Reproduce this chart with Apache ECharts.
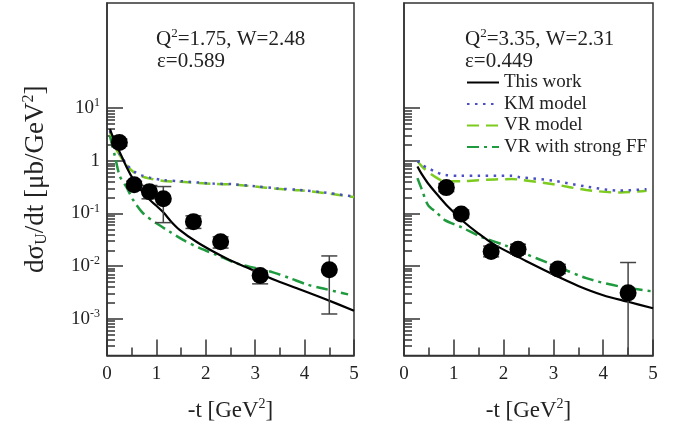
<!DOCTYPE html>
<html>
<head>
<meta charset="utf-8">
<script src="https://cdn.jsdelivr.net/npm/echarts@6/dist/echarts.min.js"></script>
<style>html,body{margin:0;padding:0;background:#fff}#c{width:681px;height:427px}</style>
</head>
<body>
<div id="c"></div>
<script>
// ---------- data ----------
const xTickLabels = ['0', '1', '2', '3', '4', '5'];
const yDecadeExponents = [-3, -2, -1, 0, 1];
const yMinValue = 2e-4;
const yMaxValue = 1000;

// left panel: Q2=1.75, W=2.48, eps=0.589
const leftPtT   = [0.25, 0.55, 0.86, 1.14, 1.75, 2.30, 3.10, 4.50];
const leftPtV   = [2.23, 0.35, 0.26, 0.19, 0.070, 0.029, 0.0066, 0.0085];
const leftPtLo  = [1.9, 0.30, 0.19, 0.067, 0.052, 0.022, 0.0046, 0.00123];
const leftPtHi  = [2.6, 0.41, 0.34, 0.325, 0.090, 0.036, 0.0081, 0.0156];

const leftThisT = [0.06, 0.15, 0.26, 0.40, 0.53, 0.70, 0.87, 1.00, 1.14, 1.30, 1.47, 1.81, 2.15, 2.48, 2.82, 3.16, 3.50, 3.91, 4.40, 5.00];
const leftThisV = [4.0, 2.4, 1.45, 0.75, 0.45, 0.27, 0.18, 0.14, 0.105, 0.07, 0.049, 0.029, 0.0189, 0.0131, 0.0095, 0.0068, 0.0050, 0.0036, 0.0024, 0.00142];

const leftKMT = [0.06, 0.15, 0.26, 0.40, 0.53, 0.70, 0.87, 1.14, 1.50, 2.15, 2.55, 3.00, 3.43, 3.90, 4.40, 5.00];
const leftKMV = [3.7, 2.0, 1.33, 0.85, 0.645, 0.53, 0.48, 0.43, 0.41, 0.37, 0.36, 0.33, 0.30, 0.28, 0.25, 0.21];
const leftVRV = [3.6, 1.95, 1.28, 0.82, 0.62, 0.51, 0.46, 0.415, 0.40, 0.365, 0.355, 0.325, 0.295, 0.275, 0.245, 0.205];

const leftFFT = [0.06, 0.16, 0.26, 0.40, 0.53, 0.73, 1.00, 1.27, 1.54, 1.88, 2.22, 2.62, 3.02, 3.36, 3.70, 4.04, 4.40, 4.88];
const leftFFV = [2.95, 1.23, 0.51, 0.31, 0.18, 0.101, 0.065, 0.045, 0.0315, 0.0219, 0.0163, 0.0113, 0.0091, 0.0076, 0.0059, 0.0045, 0.0037, 0.0029];

// right panel: Q2=3.35, W=2.31, eps=0.449
const rightPtT  = [0.85, 1.15, 1.75, 2.29, 3.09, 4.50];
const rightPtV  = [0.31, 0.098, 0.019, 0.021, 0.0088, 0.0031];
const rightPtLo = [0.26, 0.082, 0.015, 0.017, 0.0072, 0.0001];
const rightPtHi = [0.37, 0.117, 0.024, 0.026, 0.0108, 0.0117];

const rightThisT = [0.27, 0.35, 0.48, 0.65, 0.82, 1.00, 1.15, 1.49, 1.82, 2.32, 2.50, 3.00, 3.50, 4.00, 4.50, 5.00];
const rightThisV = [0.78, 0.57, 0.376, 0.24, 0.157, 0.105, 0.076, 0.042, 0.0253, 0.0145, 0.0118, 0.0069, 0.0042, 0.0028, 0.0021, 0.00158];

const rightKMT = [0.27, 0.35, 0.48, 0.65, 0.82, 1.15, 1.49, 2.16, 2.32, 3.00, 3.66, 4.33, 4.87];
const rightKMV = [1.0, 0.85, 0.73, 0.61, 0.54, 0.52, 0.52, 0.52, 0.49, 0.42, 0.325, 0.272, 0.29];
const rightVRV = [1.0, 0.80, 0.62, 0.48, 0.41, 0.41, 0.43, 0.45, 0.44, 0.36, 0.28, 0.25, 0.27];

const rightFFT = [0.27, 0.35, 0.48, 0.65, 0.82, 1.15, 1.55, 2.02, 2.32, 3.00, 3.66, 4.33, 5.00];
const rightFFV = [0.47, 0.30, 0.146, 0.105, 0.075, 0.055, 0.036, 0.025, 0.019, 0.0105, 0.0059, 0.0041, 0.0033];

const leftLabelLines  = ['Q{sup|2}=1.75, W=2.48', 'ε=0.589'];
const rightLabelLines = ['Q{sup|2}=3.35, W=2.31', 'ε=0.449'];
const legendNames = ['This work', 'KM model', 'VR model', 'VR with strong FF'];

// ---------- chart ----------
const FONT = 'Liberation Serif';
const yMin = Math.log10(yMinValue), yMax = Math.log10(yMaxValue);
const lg = v => Math.log10(v);
const pairs = (ts, vs) => ts.map((t, i) => [t, lg(vs[i])]);

const minorY = [];
for (let d = -4; d <= 0; d++) for (let k = 2; k <= 9; k++) {
  const v = lg(k) + d;
  if (v > yMin + 1e-6 && v < 1) minorY.push(v);
}

const AX = '#333';

function xAxisFor(gi) {
  return {
    gridIndex: gi, type: 'value', min: 0, max: 5, interval: 1,
    axisLine: { show: true, onZero: false, lineStyle: { color: AX, width: 1.5 } },
    axisTick: { inside: true, length: 16, lineStyle: { color: AX, width: 1.5 } },
    minorTick: { show: true, splitNumber: 2, length: 8, lineStyle: { color: AX, width: 1.5 } },
    splitLine: { show: false },
    axisLabel: { margin: 9, fontFamily: FONT, fontSize: 19, color: '#222',
      formatter: v => xTickLabels[Math.round(v)] },
    name: '-t [GeV{sup|2}]', nameLocation: 'middle', nameGap: 42,
    nameTextStyle: { fontFamily: FONT, fontSize: 23, color: '#222',
      rich: { sup: { fontFamily: FONT, fontSize: 14, verticalAlign: 'top', padding: [0, 0, 12, 0], color: '#222' } } }
  };
}
function yAxisMajor(gi, withLabels) {
  const ax = {
    gridIndex: gi, type: 'value', min: yMin, max: yMax, position: 'left',
    axisLine: { show: true, onZero: false, lineStyle: { color: AX, width: 1.5 } },
    axisTick: { inside: true, length: 16, customValues: yDecadeExponents, lineStyle: { color: AX, width: 1.5 } },
    splitLine: { show: false },
    axisLabel: { show: withLabels, customValues: yDecadeExponents, margin: 7, fontFamily: FONT, fontSize: 19, color: '#222',
      formatter: v => Math.round(v) === 0 ? '1' : '10{sup|' + (Math.round(v) < 0 ? '-' + (-Math.round(v)) : Math.round(v)) + '}',
      rich: { sup: { fontFamily: FONT, fontSize: 12, verticalAlign: 'top', padding: [0, 0, 10, 0], color: '#222' } } }
  };
  if (withLabels) {
    ax.name = 'dσ{sub|U}/dt [μb/GeV{sup|2}]';
    ax.nameLocation = 'middle';
    ax.nameGap = 57;
    ax.nameTextStyle = { fontFamily: FONT, fontSize: 27, color: '#222',
      rich: { sup: { fontFamily: FONT, fontSize: 16, verticalAlign: 'top', padding: [0, 0, 13, 0], color: '#222' },
              sub: { fontFamily: FONT, fontSize: 16, verticalAlign: 'bottom', padding: [10, 0, 0, 0], color: '#222' } } };
  }
  return ax;
}
function yAxisMinor(gi) {
  return {
    gridIndex: gi, type: 'value', min: yMin, max: yMax, position: 'left', offset: 0,
    axisLine: { show: false, onZero: false },
    axisTick: { inside: true, length: 8, customValues: minorY, lineStyle: { color: AX, width: 1.5 } },
    splitLine: { show: false },
    axisLabel: { show: false }
  };
}

const styles = {
  'This work': { color: '#000', width: 2.2, type: 'solid' },
  'KM model': { color: '#4a4fc4', width: 2.5, type: [2.5, 5.5] },
  'VR model': { color: '#7ccb1e', width: 2.5, type: [12, 7] },
  'VR with strong FF': { color: '#1f9a3e', width: 2.5, type: [12, 5, 3, 5] }
};
function curve(name, gi, ts, vs) {
  const s = styles[name];
  return {
    name, type: 'line', xAxisIndex: gi, yAxisIndex: gi * 2, data: pairs(ts, vs),
    showSymbol: false, symbol: 'none', smooth: 0.3, silent: true, z: 3,
    lineStyle: { color: s.color, width: s.width, type: s.type, cap: 'butt' },
    itemStyle: { color: s.color }
  };
}
function points(gi, ts, vs) {
  return {
    name: 'data' + gi, type: 'scatter', xAxisIndex: gi, yAxisIndex: gi * 2,
    data: pairs(ts, vs), symbol: 'circle', symbolSize: 17, z: 6, silent: true,
    itemStyle: { color: '#000', opacity: 1 }
  };
}
function errBars(gi, ts, lo, hi) {
  return {
    name: 'err' + gi, type: 'custom', xAxisIndex: gi, yAxisIndex: gi * 2, z: 4, silent: true,
    data: ts.map((t, i) => [t, lg(lo[i]), lg(hi[i])]),
    encode: { x: 0, y: [1, 2] },
    renderItem: (params, api) => {
      const t = api.value(0), l = api.value(1), h = api.value(2);
      const lc = Math.max(l, yMin);
      const p1 = api.coord([t, lc]), p2 = api.coord([t, h]);
      const hw = 8;
      const st = { stroke: '#444', lineWidth: 1.5 };
      const ch = [
        { type: 'line', shape: { x1: p1[0], y1: p1[1], x2: p2[0], y2: p2[1] }, style: st },
        { type: 'line', shape: { x1: p2[0] - hw, y1: p2[1], x2: p2[0] + hw, y2: p2[1] }, style: st }
      ];
      if (l >= yMin) ch.push({ type: 'line', shape: { x1: p1[0] - hw, y1: p1[1], x2: p1[0] + hw, y2: p1[1] }, style: st });
      return { type: 'group', children: ch };
    }
  };
}

const chart = echarts.init(document.getElementById('c'), null, { renderer: 'canvas' });
const annRich = { sup: { fontFamily: FONT, fontSize: 13, verticalAlign: 'top', padding: [0, 0, 11, 0], color: '#222' } };
chart.setOption({
  animation: false,
  backgroundColor: '#fff',
  grid: [
    { left: 107, top: 3, width: 247, height: 353, show: true, borderColor: AX, borderWidth: 1.5, containLabel: false },
    { left: 404, top: 3, width: 249, height: 353, show: true, borderColor: AX, borderWidth: 1.5, containLabel: false }
  ],
  xAxis: [xAxisFor(0), xAxisFor(1)],
  yAxis: [yAxisMajor(0, true), yAxisMinor(0), yAxisMajor(1, false), yAxisMinor(1)],
  legend: {
    orient: 'vertical', left: 461, top: 67, itemWidth: 32, itemHeight: 14, itemGap: 0.5,
    data: legendNames, selectedMode: false,
    itemStyle: { opacity: 0 },
    textStyle: { fontFamily: FONT, fontSize: 19, color: '#222', lineHeight: 21, padding: [0, 0, 0, 0] }
  },
  title: [
    { text: leftLabelLines[0], left: 151, top: 22, textStyle: { fontFamily: FONT, fontSize: 21, fontWeight: 'normal', color: '#222', rich: annRich } },
    { text: leftLabelLines[1], left: 152, top: 46, textStyle: { fontFamily: FONT, fontSize: 21, fontWeight: 'normal', color: '#222' } },
    { text: rightLabelLines[0], left: 460, top: 22, textStyle: { fontFamily: FONT, fontSize: 21, fontWeight: 'normal', color: '#222', rich: annRich } },
    { text: rightLabelLines[1], left: 460, top: 46, textStyle: { fontFamily: FONT, fontSize: 21, fontWeight: 'normal', color: '#222' } }
  ],
  series: [
    curve('VR model', 0, leftKMT, leftVRV),
    curve('KM model', 0, leftKMT, leftKMV),
    curve('VR with strong FF', 0, leftFFT, leftFFV),
    curve('This work', 0, leftThisT, leftThisV),
    errBars(0, leftPtT, leftPtLo, leftPtHi),
    points(0, leftPtT, leftPtV),
    curve('VR model', 1, rightKMT, rightVRV),
    curve('KM model', 1, rightKMT, rightKMV),
    curve('VR with strong FF', 1, rightFFT, rightFFV),
    curve('This work', 1, rightThisT, rightThisV),
    errBars(1, rightPtT, rightPtLo, rightPtHi),
    points(1, rightPtT, rightPtV)
  ]
});
</script>
</body>
</html>
